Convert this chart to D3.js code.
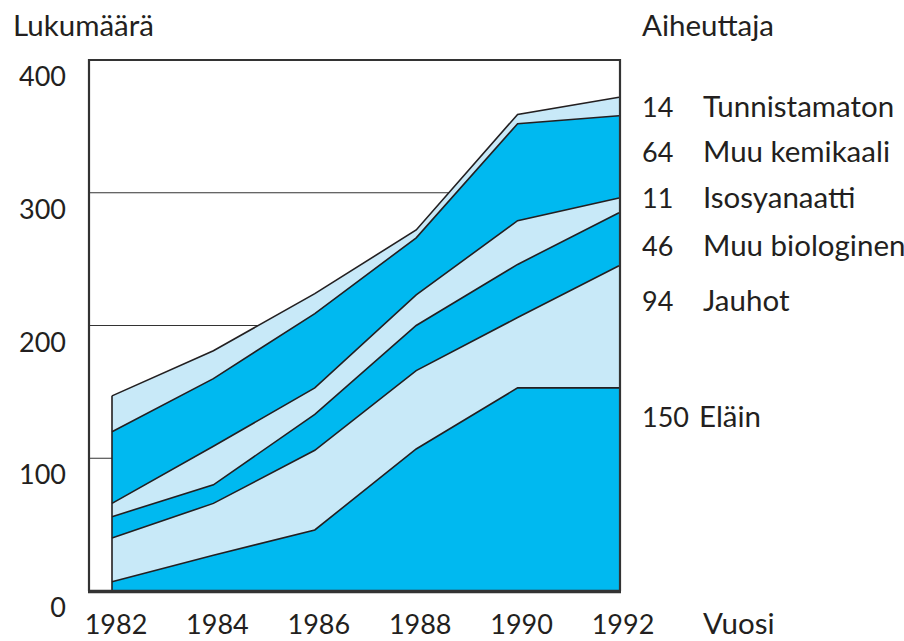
<!DOCTYPE html>
<html>
<head>
<meta charset="utf-8">
<script src="https://cdn.jsdelivr.net/npm/d3@7"></script>
<style>
  body { margin: 0; background: #fff; }
  text { font-family: Lato, "Open Sans", sans-serif; fill: #231f20; }
</style>
</head>
<body>
<div id="chart"></div>
<script>
// years on the x axis
const years = [1982, 1984, 1986, 1988, 1990, 1992];

// series, bottom to top
const series = ["Eläin", "Jauhot", "Muu biologinen", "Isosyanaatti", "Muu kemikaali", "Tunnistamaton"];
const elain = [7, 27, 46, 107, 153, 153];
const jauhot = [33, 39, 60, 59, 53, 92];
const muuBio = [16, 14, 27, 34, 40, 40];
const iso = [10, 29, 20, 23, 33, 11];
const muuKem = [54, 51, 56, 43, 73, 62];
const tunn = [27, 21, 15, 6, 7, 14];

// legend numbers (1992 counts as printed)
const legendNums = [150, 94, 46, 11, 64, 14];
const yTicks = [0, 100, 200, 300, 400];

const width = 904, height = 641;
const dark = "#00b9f0", light = "#c8e9f8";
const colors = [dark, light, dark, light, dark, light];
const numSize = 27, wordSize = 29.5;

const svg = d3.select("#chart")
  .append("svg")
  .attr("width", width)
  .attr("height", height);

const x = d3.scaleLinear().domain([1982, 1992]).range([112, 619]);
const y = d3.scaleLinear().domain([0, 400]).range([591, 60]);

// build table for the stack
const cols = [elain, jauhot, muuBio, iso, muuKem, tunn];
const table = years.map((yr, i) => {
  const row = {year: yr};
  series.forEach((s, j) => row[s] = cols[j][i]);
  return row;
});
const stacked = d3.stack().keys(series)(table);

// grid lines (behind the areas)
svg.append("g")
  .selectAll("line")
  .data([100, 200, 300])
  .join("line")
  .attr("x1", 89).attr("x2", 619)
  .attr("y1", d => y(d)).attr("y2", d => y(d))
  .attr("stroke", "#333")
  .attr("stroke-width", 1.2);

const area = d3.area()
  .x(d => x(d.data.year))
  .y0(d => y(d[0]))
  .y1(d => y(d[1]));

svg.append("g")
  .selectAll("path")
  .data(stacked)
  .join("path")
  .attr("d", area)
  .attr("fill", (d, i) => colors[i]);

// boundary lines
const topLine = d3.line()
  .x(d => x(d.data.year))
  .y(d => y(d[1]));

svg.append("g")
  .selectAll("path")
  .data(stacked)
  .join("path")
  .attr("d", topLine)
  .attr("fill", "none")
  .attr("stroke", "#231f20")
  .attr("stroke-width", 1.6);

// left edge of the stack
const total0 = stacked[stacked.length - 1][0][1];
svg.append("line")
  .attr("x1", x(1982)).attr("x2", x(1982))
  .attr("y1", y(0)).attr("y2", y(total0))
  .attr("stroke", "#231f20")
  .attr("stroke-width", 1.6);

// frame
svg.append("path")
  .attr("d", `M89,${y(0)}V${y(400)}H620V${y(0)}`)
  .attr("fill", "none")
  .attr("stroke", "#333")
  .attr("stroke-width", 2.2);
svg.append("line")
  .attr("x1", 88).attr("x2", 621)
  .attr("y1", y(0) + 0.5).attr("y2", y(0) + 0.5)
  .attr("stroke", "#333")
  .attr("stroke-width", 3.5);

// y labels
svg.append("g")
  .selectAll("text")
  .data(yTicks)
  .join("text")
  .attr("x", 66)
  .attr("y", d => y(d) + 26)
  .attr("text-anchor", "end")
  .attr("font-size", numSize)
  .text(d => d);

// x labels
svg.append("g")
  .selectAll("text")
  .data(years)
  .join("text")
  .attr("x", d => x(d) + 4)
  .attr("y", 634)
  .attr("text-anchor", "middle")
  .attr("font-size", numSize)
  .text(d => d);

svg.append("text").attr("x", 703).attr("y", 634).attr("font-size", wordSize).text("Vuosi");
svg.append("text").attr("x", 13).attr("y", 36).attr("font-size", wordSize).text("Lukumäärä");
svg.append("text").attr("x", 642).attr("y", 36).attr("font-size", wordSize).text("Aiheuttaja");

// legend on the right, bottom to top
const legendY = [427, 311, 256, 208, 162, 117];
const leg = svg.append("g");
series.forEach((s, i) => {
  if (i === 0) {
    leg.append("text").attr("x", 642).attr("y", legendY[i]).attr("font-size", numSize)
      .text(legendNums[i]);
    leg.append("text").attr("x", 699).attr("y", legendY[i]).attr("font-size", wordSize).text(s);
  } else {
    leg.append("text").attr("x", 642).attr("y", legendY[i]).attr("font-size", numSize).text(legendNums[i]);
    leg.append("text").attr("x", 703).attr("y", legendY[i]).attr("font-size", wordSize).text(s);
  }
});
</script>
</body>
</html>
